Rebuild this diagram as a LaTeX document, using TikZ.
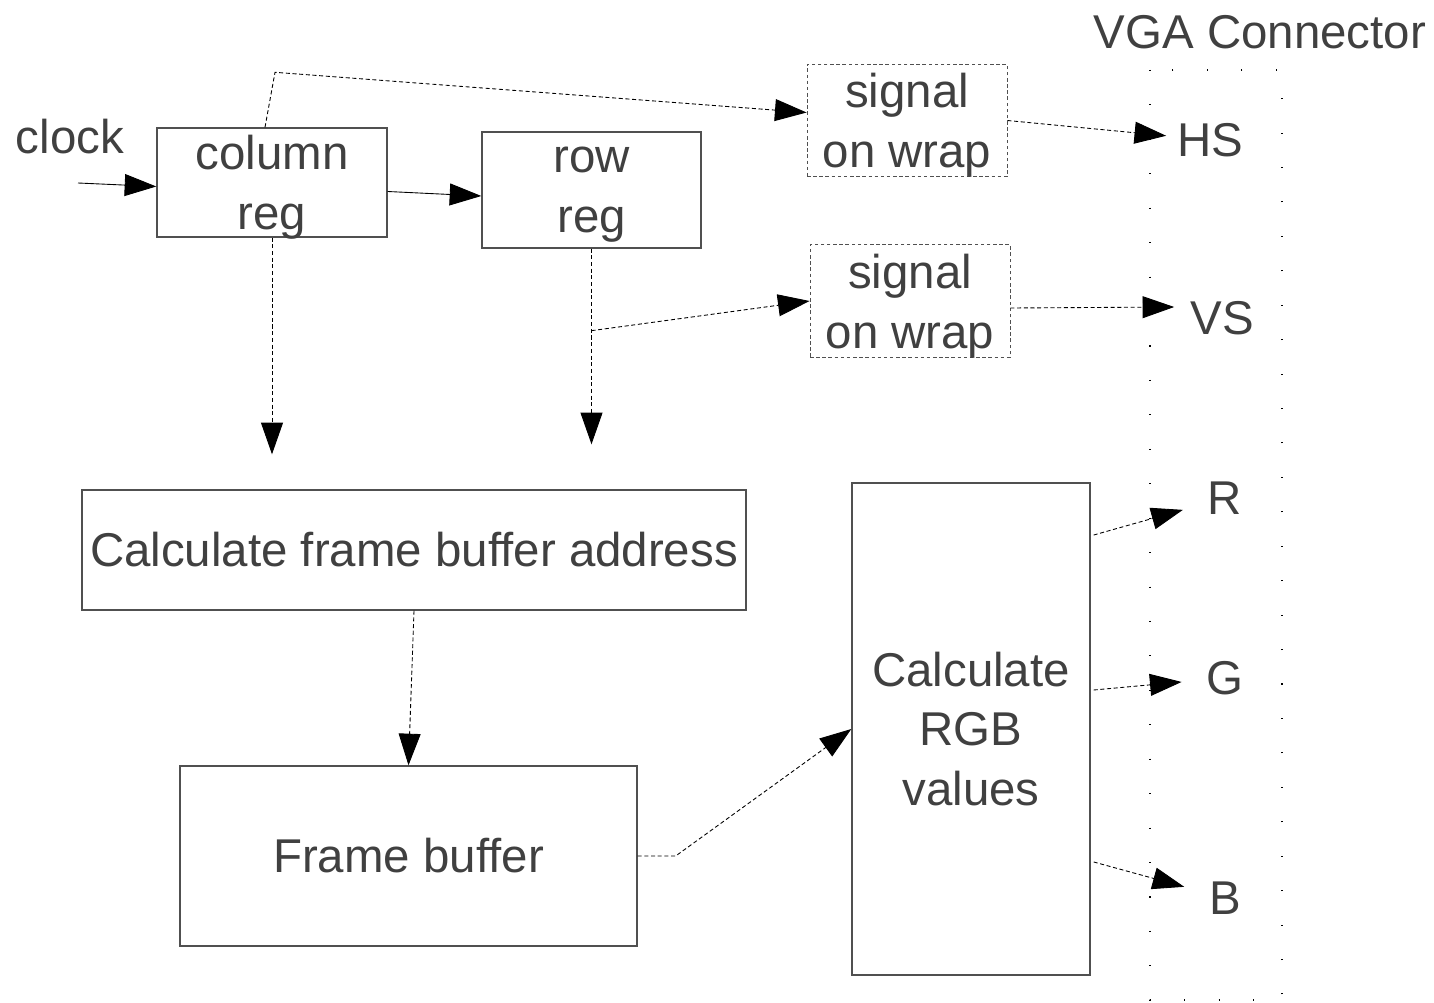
\documentclass[tikz,border=0pt]{standalone}
\usepackage{fontspec}
\setmainfont{Liberation Sans}
\usetikzlibrary{arrows.meta}
\definecolor{txtgray}{HTML}{404040}
\definecolor{boxgray}{HTML}{505050}
\begin{document}
\begin{tikzpicture}[x=0.02cm,y=-0.02cm,
    every node/.style={font=\fontsize{27}{34}\selectfont,text=txtgray,align=center},
    blk/.style={draw=boxgray,line width=0.8pt,inner sep=0pt},
    twoline/.style={text depth=0pt},
    wrapbox/.style={blk,twoline,dash pattern=on 2pt off 1.5pt,line width=0.5pt,minimum width=4cm,minimum height=2.25cm},
    pin/.style={inner sep=9pt},
    wire/.style={-{Triangle[length=18pt,width=12.5pt]},line width=0.5pt},
    sig/.style={wire,dash pattern=on 2.3pt off 1.5pt}]
    \useasboundingbox (0,0) rectangle (1434,1003);
    \node (clock) at (70,137) {clock};
    \node[blk,twoline,minimum width=4.6cm,minimum height=2.18cm] (colreg) at (272,182.5) {column\\reg};
    \node[blk,twoline,minimum width=4.38cm,minimum height=2.32cm] (rowreg) at (591.5,190) {row\\reg};
    \node[wrapbox] (wrapH) at (907,120.5) {signal\\on wrap};
    \node[wrapbox] (wrapV) at (910,301) {signal\\on wrap};
    \node[blk,minimum width=13.28cm,minimum height=2.4cm] (addr) at (414,550) {Calculate frame buffer address};
    \node[blk,minimum width=9.14cm,minimum height=3.6cm] (fbuf) at (408.5,856) {Frame buffer};
    \node[blk,minimum width=4.76cm,minimum height=9.84cm] (rgb) at (971,729) {Calculate\\RGB\\values};
    \node (vgatitle) at (1260,32) {VGA Connector};
    \draw[line width=0.6pt,dash pattern=on 0.6pt off 19pt] (1150,70) rectangle (1282,1000);
    \node[pin,inner sep=6pt] (hs) at (1210,140) {HS};
    \node[pin] (vs) at (1222,318) {VS};
    \node[pin,inner sep=14pt] (r) at (1225,498) {R};
    \node[pin,inner sep=14pt] (g) at (1225,678) {G};
    \node[pin,inner sep=14pt] (b) at (1225,898) {B};
    \coordinate (clkin) at (78,183);
    \draw[wire] (clkin) -- ([yshift=-0.08cm]colreg.west);
    \draw[wire] ([yshift=-0.18cm]colreg.east) -- ([yshift=-0.12cm]rowreg.west);
    \draw[sig] ([xshift=-0.14cm]colreg.north) -- ++(10,-55) -- ([yshift=0.16cm]wrapH.west);
    \draw[sig] (wrapH.east) -- (hs);
    \draw[sig,shorten >=0.7cm] (colreg.south) -- (colreg.south |- addr.north);
    \draw[sig,shorten >=0.9cm] (rowreg.south) -- (rowreg.south |- addr.north);
    \draw[sig] ([yshift=-1.64cm]rowreg.south) -- (wrapV.west);
    \draw[sig] ([yshift=-0.14cm]wrapV.east) -- ([yshift=0.22cm]vs.west);
    \draw[sig] (addr.south) -- (fbuf.north);
    \draw[sig] (fbuf.east) -- ++(38,0) -- (rgb.west);
    \foreach \dy/\pinname in {3.88/r,0.78/g,-2.66/b}
        \draw[sig] ([xshift=0.06cm,yshift=\dy cm]rgb.east) -- (\pinname);
\end{tikzpicture}
\end{document}
